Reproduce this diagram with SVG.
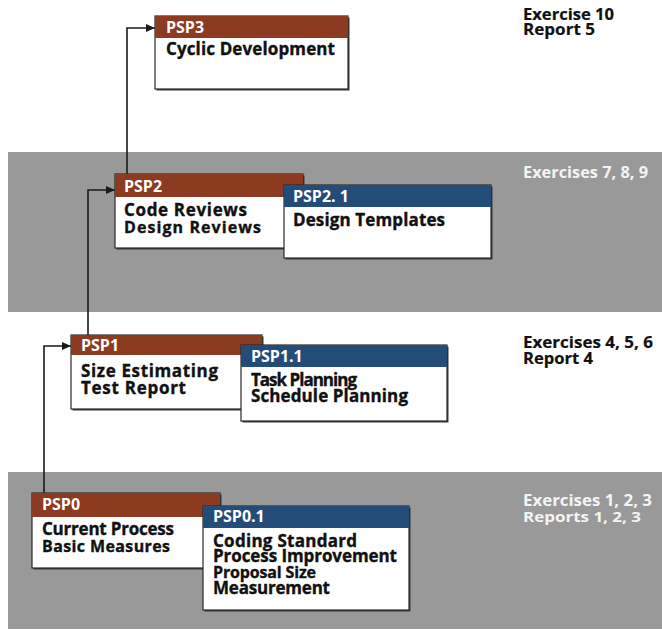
<svg xmlns="http://www.w3.org/2000/svg" width="662" height="631" viewBox="0 0 662 631">
<defs>
<marker id="ah" markerWidth="10" markerHeight="10" refX="9" refY="5" orient="auto" markerUnits="userSpaceOnUse">
<path d="M0,1 L9,5 L0,9 Z" fill="#1a1a1a"/>
</marker>
<style>
text{font-family:"Open Sans","Noto Sans","Liberation Sans",sans-serif;font-weight:700}
.band{fill:#999999}
.shadow{fill:#3a3a3a}
.body{fill:#ffffff;stroke:#2a2a2a;stroke-width:1.2}
.hr{fill:#8c3a20}
.hb{fill:#234d78}
.ht{fill:#ffffff;font-size:16px}
.bt{fill:#111111;stroke:#111111;stroke-width:0.35;font-size:17px}
.bs{fill:#111111;stroke:#111111;stroke-width:0.35;font-size:16px}
.lb{fill:#111111;stroke:#111111;stroke-width:0.2;font-size:16px}
.lw{fill:#f4f4f4;font-size:16px}
.ls{fill:#f4f4f4;font-size:15px}
.conn{fill:none;stroke:#1a1a1a;stroke-width:1.6}
</style>
</defs>
<rect width="662" height="631" fill="#ffffff"/>
<rect class="band" x="8" y="152" width="654" height="160"/>
<rect class="band" x="8" y="472" width="654" height="157"/>

<g id="labels">
<text class="lb" x="523" y="20" textLength="91" lengthAdjust="spacingAndGlyphs">Exercise 10</text>
<text class="lb" x="523" y="35" textLength="72" lengthAdjust="spacingAndGlyphs">Report 5</text>
<text class="lw" x="523" y="178" textLength="125" lengthAdjust="spacingAndGlyphs">Exercises 7, 8, 9</text>
<text class="lb" x="523" y="348" textLength="130" lengthAdjust="spacingAndGlyphs">Exercises 4, 5, 6</text>
<text class="lb" x="523" y="364" textLength="70" lengthAdjust="spacingAndGlyphs">Report 4</text>
<text class="lw" x="523" y="506" textLength="129" lengthAdjust="spacingAndGlyphs">Exercises 1, 2, 3</text>
<text class="ls" x="523" y="522" textLength="118" lengthAdjust="spacingAndGlyphs">Reports 1, 2, 3</text>
</g>

<g id="connectors">
<path class="conn" d="M127,174 V28 H155" marker-end="url(#ah)"/>
<path class="conn" d="M88,335 V190 H115" marker-end="url(#ah)"/>
<path class="conn" d="M44,493 V346 H71" marker-end="url(#ah)"/>
</g>

<g id="psp3">
<rect class="shadow" x="156.5" y="17.5" width="193" height="73"/>
<rect class="body" x="155" y="16" width="193" height="73"/>
<rect class="hr" x="155" y="16" width="193" height="22"/>
<text class="ht" x="166" y="33">PSP3</text>
<text class="bt" x="166" y="55" textLength="169">Cyclic Development</text>
</g>

<g id="psp2">
<rect class="shadow" x="116.5" y="175.5" width="188" height="74"/>
<rect class="body" x="115" y="174" width="188" height="74"/>
<rect class="hr" x="115" y="174" width="188" height="23"/>
<text class="ht" x="124" y="192">PSP2</text>
<text class="bt" x="124" y="216" textLength="123">Code Reviews</text>
<text class="bs" x="124" y="233" textLength="137">Design Reviews</text>
</g>

<g id="psp2-1">
<rect class="shadow" x="285.5" y="186.5" width="207" height="73"/>
<rect class="body" x="284" y="185" width="207" height="73"/>
<rect class="hb" x="284" y="185" width="207" height="22"/>
<text class="ht" x="293" y="202">PSP2. 1</text>
<text class="bt" x="293" y="226" textLength="152">Design Templates</text>
</g>

<g id="psp1">
<rect class="shadow" x="72.5" y="336.5" width="191" height="74"/>
<rect class="body" x="71" y="335" width="191" height="74"/>
<rect class="hr" x="71" y="335" width="191" height="20"/>
<text class="ht" x="81" y="351">PSP1</text>
<text class="bt" x="81" y="377" textLength="137">Size Estimating</text>
<text class="bt" x="81" y="394" textLength="105">Test Report</text>
</g>

<g id="psp1-1">
<rect class="shadow" x="242.5" y="346.5" width="206" height="76"/>
<rect class="body" x="241" y="345" width="206" height="76"/>
<rect class="hb" x="241" y="345" width="206" height="22"/>
<text class="ht" x="251" y="362">PSP1.1</text>
<text class="bt" x="251" y="386" textLength="106">Task Planning</text>
<text class="bt" x="251" y="402" textLength="157">Schedule Planning</text>
</g>

<g id="psp0">
<rect class="shadow" x="33.5" y="494.5" width="188" height="75"/>
<rect class="body" x="32" y="493" width="188" height="75"/>
<rect class="hr" x="32" y="493" width="188" height="24"/>
<text class="ht" x="42" y="510">PSP0</text>
<text class="bt" x="42" y="535" textLength="132">Current Process</text>
<text class="bs" x="42" y="552" textLength="128">Basic Measures</text>
</g>

<g id="psp0-1">
<rect class="shadow" x="204.5" y="507.5" width="206" height="104"/>
<rect class="body" x="203" y="506" width="206" height="104"/>
<rect class="hb" x="203" y="506" width="206" height="22"/>
<text class="ht" x="213" y="522">PSP0.1</text>
<text class="bt" x="213" y="547" textLength="144">Coding Standard</text>
<text class="bt" x="213" y="562" textLength="184">Process Improvement</text>
<text class="bs" x="213" y="578" textLength="103">Proposal Size</text>
<text class="bt" x="213" y="594" textLength="117">Measurement</text>
</g>
</svg>
